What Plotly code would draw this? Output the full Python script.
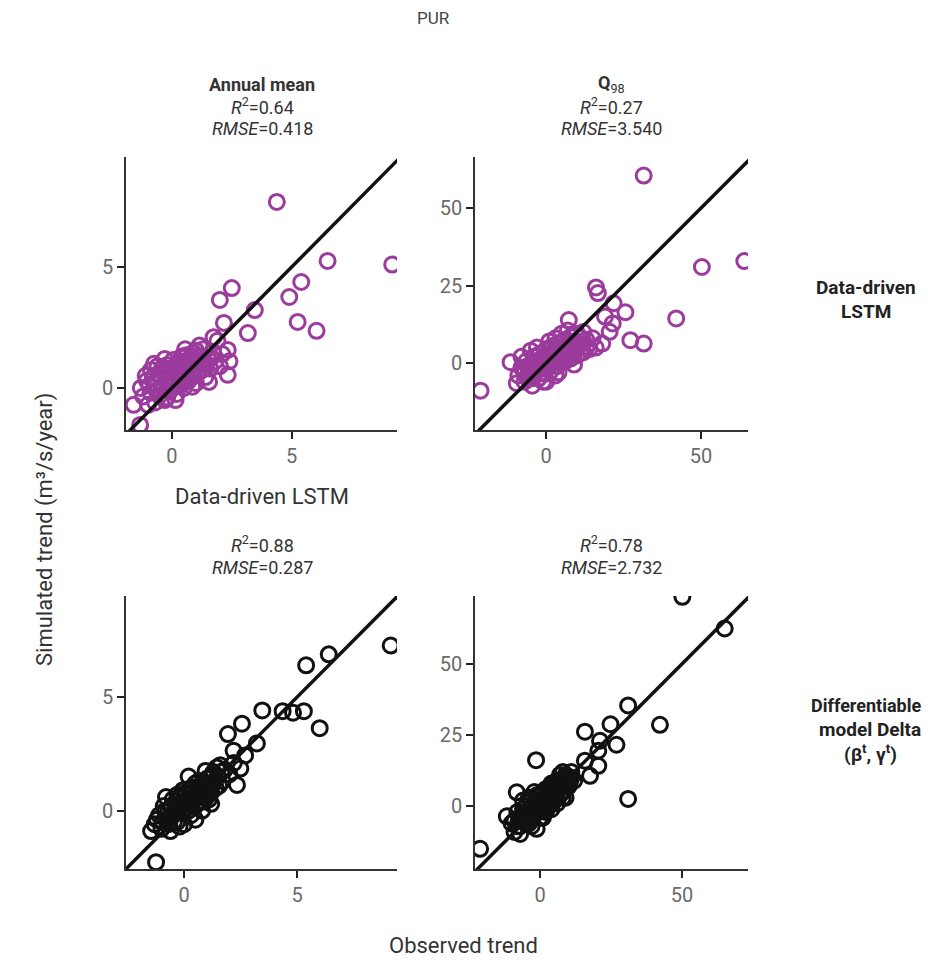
import plotly.graph_objects as go

# ---------------- data (observed trend, simulated trend) ----------------
tl_obs = [4.38, 6.5, 9.2, 5.4, 4.9, 5.25, 6.04, 2.5, 2.0, 3.46, 2.17, 3.17, 2.33, 2.33, 1.74, 2.4,
          -1.6, -1.33, -1.3, -1.2, -1.05, -0.88, -0.9, -0.8, -0.7, -0.65, -0.6, -0.5, -0.5, -0.4, -0.35,
          -0.3, -0.2, -0.2, -0.1, -0.1, 0.0, 0.0, 0.05, 0.1, 0.15, 0.2, 0.25, 0.3, 0.3, 0.4, 0.4, 0.5,
          0.5, 0.6, 0.6, 0.7, 0.7, 0.8, 0.9, 0.9, 1.0, 1.0, 1.1, 1.2, 1.3, 1.3, 1.4, 1.5, 1.6, 1.7, 1.8,
          1.9, 2.0, 2.1, 0.2, -0.75, 0.55, 1.15, -0.3, 0.85, 1.55, -1.0,
          -0.75, -0.55, -0.45, -0.25, -0.15, 0.05, 0.15, 0.25, 0.35, 0.45, 0.55, 0.65, 0.75, 0.85, 0.95,
          1.05, 1.15, 1.25, 1.35, 0.1, 0.3, 0.5, 0.7, 0.9, -0.6, -0.4, -0.2, 0.0, 0.2, 0.4, 0.6, 0.8,
          1.0, 1.2, 1.45, 1.65, -1.1, -0.95]
tl_sim = [7.69, 5.25, 5.1, 4.38, 3.76, 2.73, 2.36, 4.13, 3.64, 3.22, 2.69, 2.27, 1.57, 0.54, 2.1, 1.1,
          -0.7, -1.53, 0.0, -0.35, 0.3, 0.74, -0.2, 0.45, -0.6, 0.15, 0.9, -0.3, 0.45, 0.05, 0.65,
          -0.5, 0.25, 0.95, 0.45, -0.15, 0.05, 0.7, 1.15, 0.3, -0.5, 0.55, 1.0, 0.1, 0.75, 1.3, 0.4, 0.0,
          0.9, 0.6, 1.35, 0.3, 1.1, 0.8, 0.5, 1.45, 1.0, 0.2, 1.3, 0.7, 1.6, 1.0, 0.45, 1.2, 0.8, 1.5, 1.1,
          1.95, 0.9, 1.4, -0.25, 1.0, 1.6, 1.75, 1.2, 0.05, 0.25, -0.7,
          0.2, 0.6, -0.1, 0.35, 0.8, 0.3, 0.9, 0.1, 1.1, 0.65, 0.4, 1.0, 0.55, 1.2, 0.9,
          0.6, 1.0, 1.3, 0.8, 0.6, 0.5, 1.25, 0.85, 1.1, -0.1, 0.85, -0.4, 0.4, 0.75, 0.2, 0.25, 1.3,
          1.55, 0.95, 1.0, 1.25, 0.5, 0.1]

tr_obs = [31.5, 50.3, 64.0, 42.0, 16.1, 16.7, 21.8, 25.6, 21.5, 20.5, 18.1, 27.2, 31.5, 7.3, -21.2, -11.5,
          -4.5, 19.0,
          -9, -8, -7, -6.5, -5.5, -4, -3.5, -2.5, -2, -1, -0.5, 0, 1, 1.5, 2, 3, 3.5, 4, 5, 6, 6, 7, 8, 8,
          9, 10, 10, 11, 12, 13, 14, 15, -3, 1, 3, 5, -6, -8, 12, 16, -1, 9, -4.5, -1.5, 2.5, 4.5, 6.5,
          7.5, 11, -2, 0.5, 3, -9.5, 13, 4, -5, 0, 7, -7,
          -7, -6, -5, -4, -3, -2, -1, 0, 1, 2, 3, 4, 5, 6, 7, 8, 9, 10, 11, -5, -3, -1, 1, 3, 5, 7, 9,
          -6, -2, 2, 6, 10, 0, 4, 8, -4, 12]
tr_sim = [60.5, 31.0, 32.9, 14.4, 24.4, 22.6, 19.3, 16.4, 12.8, 10.1, 6.3, 7.4, 6.3, 13.9, -8.9, 0.3,
          -7.3, 15.0,
          -4, -1.5, -6, 0.5, -3, 2, -1, -5, 3, 0, -3.5, 4.5, 1, -2.5, 5.5, 2, -1, 6.5, 3, 0.5, 7.5, 4, 1.5,
          8.5, 5, 2.5, 9.5, 6, 3.5, 7.5, 4.5, 8, 5, 7, -4, 9.5, -5, 2, 10, 5, -6, -0.5, -4, 1.5, 3, 1, 5.5,
          2.5, 3.5, -2, 2.5, 8, -6.5, 5, -3, 4, -6, 10.5, -3,
          -2, -4, -1.5, -3, 0, -1, 2, 1, 3, 0, 4.5, 3, 5, 3, 6, 5, 7, 6, 8, -5, -2.5, -3, -1, 5.5, 6.5, 7, 3,
          -1, 0.5, 1.5, 2, 5, 0, 4, 3.5, 0.5, 7]

bl_obs = [9.14, 6.4, 5.4, 3.46, 4.36, 4.82, 5.3, 6.0, 2.56, 1.94, 3.22, 2.19, 2.7, 2.49, 2.34, -1.24, -1.46,
          -1.3, -1.1, -1.0, -0.9, -0.8, -0.7, -0.6, -0.5, -0.5, -0.4, -0.3, -0.3, -0.2, -0.1, 0.0, 0.0,
          0.1, 0.1, 0.2, 0.3, 0.3, 0.4, 0.5, 0.5, 0.6, 0.7, 0.8, 0.9, 1.0, 1.0, 1.1, 1.2, 1.3, 1.4, 1.5,
          1.6, 1.7, 1.8, 2.0, 2.2, 0.5, -0.2, 0.8, -0.8, 0.2, 1.2, 0.65, 1.45, -0.05, 0.35, 0.95,
          -1.2, -0.95, -0.85, -0.65, -0.55, -0.45, -0.35, -0.25, -0.15, -0.05, 0.05, 0.15, 0.25, 0.35,
          0.45, 0.55, 0.65, 0.75, 0.85, 0.95, 1.05, 1.15, 1.25, 1.35, 1.55, 1.65, -0.7, -0.4, 0.0, 0.4,
          0.8, 1.2, 0.2, 0.6, 1.0, -0.2]
bl_sim = [7.27, 6.88, 6.4, 4.41, 4.38, 4.31, 4.38, 3.63, 3.83, 3.37, 2.96, 2.64, 2.43, 1.85, 1.13, -2.27, -0.9,
          -0.6, -0.2, -0.8, 0.2, -0.4, 0.0, -0.9, 0.5, -0.2, 0.1, 0.7, -0.5, 0.3, -0.1, 0.4, -0.6,
          0.8, 0.1, 0.4, -0.2, 1.0, 0.6, 0.2, 1.2, 0.8, 0.4, 1.1, 0.7, 1.4, 0.9, 0.5, 1.2, 1.7, 1.0, 1.5,
          2.0, 1.3, 1.8, 1.6, 2.1, -0.4, -0.7, 0.0, 0.6, 1.5, 0.3, 1.3, 1.9, 0.9, 0.55, 1.75,
          -0.4, -0.5, 0.0, -0.3, 0.2, -0.5, 0.4, 0.0, 0.6, 0.2, 0.1, 0.5, 0.8, 0.3,
          0.9, 0.6, 1.0, 0.7, 0.4, 1.1, 1.2, 0.8, 1.5, 1.3, 1.1, 1.7, -0.6, -0.1, 0.9, 1.0,
          0.6, 0.8, 0.0, 0.35, 0.6, 0.55]

br_obs = [50.1, 65.0, 31.0, 24.8, 42.2, 15.8, 21.1, 26.9, 20.5, 20.5, 17.6, 15.8, 31.0, -1.4, -8.2, -11.7,
          -21.1, -7.0, -1.2,
          -10, -9, -8, -6, -5, -4, -3, -2, -1, 0, 0, 1, 1, 2, 3, 3, 4, 5, 5, 6, 7, 7, 8, 9, 9, 10, 11, 12,
          -6, -3, 2, 4, 6, 8, -2, -4, 0.5, 2.5, 4.5, 6.5, 8.5, 10.5, -5.5, -1.5, 3.5, 1.5, 5.5, -7.5,
          -9, -7, -6, -5, -4, -3, -2, -1, 0, 1, 2, 3, 4, 5, 6, 7, 8, 9, 10, -7, -5, -3, -1, 1, 3, 5, 7, 9,
          11, -8, -4, 0, 4, 8, -2, 2, 6]
br_sim = [73.5, 62.4, 35.4, 28.8, 28.6, 26.2, 23.0, 21.6, 19.5, 14.2, 10.7, 16.0, 2.6, 16.2, 4.9, -3.5,
          -14.9, -9.7, -7.9,
          -6, -9, -2, -4, 0, -6, 2, -3, 1, -1, 4, -4, 2, 6, 0, 4, 8, 2, 6, 9, 4, 11, 7, 3, 10, 7, 12, 9,
          2, -7, -2, -1, 1, 12, 5, 3, 1.5, 3.5, 5, 6.5, 9.5, 8.5, -2.5, -1.5, 7, 0, 3.5, -5,
          -5, -7, -1, -3, -1, -4, 0, -2, 2, 0, 3, 2, 5, 4, 6, 8, 5, 7, 9, -4, -6, -1, 4, 5, 6, 8, 9, 11,
          10, -7, -6, -4, 1, 3, 1, -1, 3]

# axis ranges and ticks per panel
tl_range_x, tl_range_y = [-1.92, 9.4], [-1.74, 9.55]
tr_range_x, tr_range_y = [-23.0, 65.2], [-21.6, 66.5]
bl_range_x, bl_range_y = [-2.57, 9.42], [-2.57, 9.45]
br_range_x, br_range_y = [-22.9, 73.2], [-22.0, 73.8]
small_ticks = [0, 5]
big_xticks = [0, 50]
big_yticks = [0, 25, 50]

PURPLE = "#9b3b9c"
W, H = 928, 967


def px(x):
    return x / W


def py(y):
    return 1 - y / H


fig = go.Figure()

panels = [
    ("x", "y", tl_obs, tl_sim, PURPLE, tl_range_x, tl_range_y),
    ("x2", "y2", tr_obs, tr_sim, PURPLE, tr_range_x, tr_range_y),
    ("x3", "y3", bl_obs, bl_sim, "#111111", bl_range_x, bl_range_y),
    ("x4", "y4", br_obs, br_sim, "#111111", br_range_x, br_range_y),
]

for xa, ya, ox, sy, col, rx, ry in panels:
    fig.add_trace(go.Scatter(
        x=ox, y=sy, mode="markers", xaxis=xa, yaxis=ya, showlegend=False,
        marker=dict(symbol="circle-open", size=15, color=col, line=dict(width=3, color=col)),
    ))
    lo = min(rx[0], ry[0])
    hi = max(rx[1], ry[1])
    fig.add_trace(go.Scatter(
        x=[lo, hi], y=[lo, hi], mode="lines", xaxis=xa, yaxis=ya, showlegend=False,
        line=dict(color="#111111", width=3.5),
    ))

axis_common = dict(
    showline=True, linecolor="#333333", linewidth=1.5, ticks="outside", ticklen=7,
    tickwidth=2, tickcolor="#222222", showgrid=False, zeroline=False,
    tickfont=dict(family="Roboto", size=20, color="#6a6a6a"),
)

domx_l = [px(126), px(397)]
domx_r = [px(475), px(748)]
domy_t = [py(430), py(157)]
domy_b = [py(869), py(596)]

fig.update_layout(
    width=W, height=H, margin=dict(l=0, r=0, t=0, b=0),
    paper_bgcolor="white", plot_bgcolor="white",
    xaxis=dict(domain=domx_l, range=tl_range_x, tickvals=small_ticks, anchor="y", **axis_common),
    yaxis=dict(domain=domy_t, range=tl_range_y, tickvals=small_ticks, anchor="x", **axis_common),
    xaxis2=dict(domain=domx_r, range=tr_range_x, tickvals=big_xticks, anchor="y2", **axis_common),
    yaxis2=dict(domain=domy_t, range=tr_range_y, tickvals=big_yticks, anchor="x2", **axis_common),
    xaxis3=dict(domain=domx_l, range=bl_range_x, tickvals=small_ticks, anchor="y3", **axis_common),
    yaxis3=dict(domain=domy_b, range=bl_range_y, tickvals=small_ticks, anchor="x3", **axis_common),
    xaxis4=dict(domain=domx_r, range=br_range_x, tickvals=big_xticks, anchor="y4", **axis_common),
    yaxis4=dict(domain=domy_b, range=br_range_y, tickvals=big_yticks, anchor="x4", **axis_common),
)

TXT = "#333333"
FONT = "Roboto"


def ann(text, x, y, size=18, color=TXT, angle=0):
    fig.add_annotation(text=text, x=px(x), y=py(y), xref="paper", yref="paper",
                       showarrow=False, xanchor="center", yanchor="middle", textangle=angle,
                       font=dict(family=FONT, size=size, color=color))


ann("PUR", 433, 18, size=17, color="#444444")

ann("<b>Annual mean</b>", 262, 84)
ann("<i>R</i><sup>2</sup>=0.64", 262, 106)
ann("<i>RMSE</i>=0.418", 262, 129)

ann("<b>Q</b><sub>98</sub>", 611, 84)
ann("<i>R</i><sup>2</sup>=0.27", 611, 106)
ann("<i>RMSE</i>=3.540", 611, 129)

ann("<i>R</i><sup>2</sup>=0.88", 262, 544)
ann("<i>RMSE</i>=0.287", 262, 567)
ann("<i>R</i><sup>2</sup>=0.78", 611, 544)
ann("<i>RMSE</i>=2.732", 611, 567)

ann("Data-driven LSTM", 262, 496, size=22)
ann("Observed trend", 463, 945, size=22)
ann("Simulated trend (m³/s/year)", 45, 530, size=22, angle=-90)

ann("<b>Data-driven</b>", 866, 288, size=19, color="#222222")
ann("<b>LSTM</b>", 866, 311, size=19, color="#222222")
ann("<b>Differentiable</b>", 866, 705, size=18, color="#222222")
ann("<b>model Delta</b>", 870, 729, size=19, color="#222222")
ann("<b>(β<sup>t</sup>, γ<sup>t</sup>)</b>", 870, 753, size=19, color="#222222")

fig.write_html("out.html")
